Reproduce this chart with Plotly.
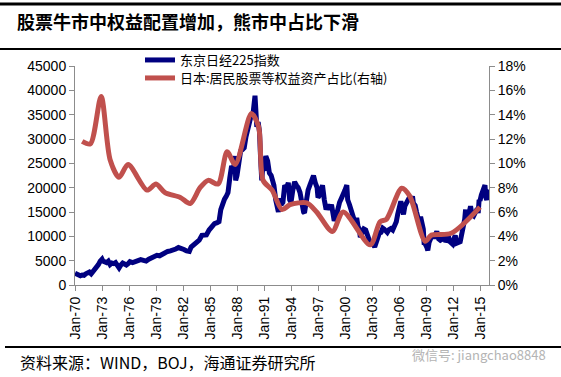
import plotly.graph_objects as go

# ---------------- data ----------------
nikkei_year = [
    1970.0, 1970.2, 1970.4, 1970.6, 1970.8, 1971.0, 1971.2, 1971.4, 1971.6, 1971.8,
    1972.0, 1972.3, 1972.6, 1972.8, 1973.0, 1973.1, 1973.3, 1973.5, 1973.7, 1973.9,
    1974.1, 1974.3, 1974.5, 1974.7, 1974.9, 1975.1, 1975.3, 1975.5, 1975.7, 1975.9,
    1976.1, 1976.4, 1976.7, 1977.0, 1977.3, 1977.6, 1977.9, 1978.2, 1978.5, 1978.8,
    1979.1, 1979.4, 1979.7, 1980.0, 1980.3, 1980.6, 1980.9, 1981.2, 1981.5, 1981.8,
    1982.1, 1982.4, 1982.7, 1982.9, 1983.2, 1983.5, 1983.8, 1984.1, 1984.4, 1984.6,
    1984.9, 1985.2, 1985.5, 1985.8, 1986.0, 1986.2, 1986.4, 1986.6, 1986.8, 1987.0,
    1987.2, 1987.4, 1987.6, 1987.8, 1987.85, 1988.0, 1988.2, 1988.4, 1988.6, 1988.8,
    1989.0, 1989.2, 1989.4, 1989.6, 1989.8, 1990.0, 1990.1, 1990.2, 1990.35, 1990.5,
    1990.6, 1990.75, 1990.85, 1991.0, 1991.2, 1991.4, 1991.6, 1991.8, 1991.95, 1992.1,
    1992.3, 1992.45, 1992.6, 1992.7, 1992.9, 1993.1, 1993.3, 1993.5, 1993.7, 1993.85,
    1994.0, 1994.2, 1994.4, 1994.6, 1994.8, 1995.0, 1995.2, 1995.4, 1995.5, 1995.7,
    1995.9, 1996.1, 1996.3, 1996.5, 1996.7, 1996.9, 1997.0, 1997.2, 1997.4, 1997.5,
    1997.7, 1997.9, 1998.1, 1998.3, 1998.5, 1998.7, 1998.8, 1999.0, 1999.2, 1999.4,
    1999.6, 1999.8, 2000.0, 2000.2, 2000.3, 2000.5, 2000.65, 2000.8, 2000.95, 2001.1,
    2001.3, 2001.45, 2001.6, 2001.7, 2001.9, 2002.1, 2002.3, 2002.5, 2002.7, 2002.9,
    2003.1, 2003.3, 2003.45, 2003.6, 2003.8, 2004.0, 2004.2, 2004.35, 2004.5, 2004.7,
    2004.9, 2005.1, 2005.3, 2005.5, 2005.7, 2005.85, 2006.0, 2006.2, 2006.35, 2006.5,
    2006.65, 2006.85, 2007.1, 2007.3, 2007.5, 2007.6, 2007.8, 2007.95, 2008.1, 2008.25,
    2008.4, 2008.55, 2008.7, 2008.8, 2008.9, 2009.1, 2009.2, 2009.35, 2009.5, 2009.7,
    2009.85, 2010.0, 2010.2, 2010.4, 2010.6, 2010.8, 2010.95, 2011.1, 2011.2, 2011.35,
    2011.5, 2011.6, 2011.8, 2011.95, 2012.1, 2012.25, 2012.4, 2012.6, 2012.8, 2012.9,
    2013.0, 2013.15, 2013.3, 2013.4, 2013.5, 2013.6, 2013.75, 2013.95, 2014.1, 2014.3,
    2014.5, 2014.7, 2014.8, 2014.9, 2015.0, 2015.15, 2015.3, 2015.45, 2015.55, 2015.65,
    2015.75, 2015.9, 2016.0,
]
nikkei_value = [
    2400, 2250, 2000, 1900, 2050, 2000, 2300, 2450, 2650, 2300,
    2700, 3300, 4200, 4900, 5300, 4900, 4700, 4600, 4900, 4200,
    4500, 4400, 4600, 4000, 3500, 4100, 4500, 4300, 4100, 4400,
    4800, 4600, 4900, 5000, 5200, 5100, 4900, 5300, 5600, 5800,
    6100, 6000, 6400, 6500, 6900, 7000, 7100, 7400, 7700, 7600,
    7300, 7000, 6900, 7800, 8200, 8800, 9200, 10200, 10400, 10300,
    11300, 12100, 12600, 12800, 13000, 15500, 16800, 17600, 18200, 19000,
    22000, 24500, 23500, 26500, 21500, 22500, 25000, 27500, 27800, 28200,
    30500, 32500, 33500, 35000, 35500, 38900, 37000, 32500, 33500, 31500,
    27000, 21500, 24000, 23500, 26500, 25500, 23000, 22500, 21500, 20500,
    17500, 16500, 15000, 17800, 16500, 17000, 20500, 20000, 21000, 17500,
    17000, 19500, 21200, 20500, 20000, 19000, 16500, 15000, 14800, 17500,
    19500, 20500, 22000, 22500, 21000, 20000, 18000, 18500, 19800, 20500,
    17500, 15500, 16500, 15500, 16500, 14000, 13200, 14000, 16000, 17000,
    17800, 18500, 19500, 20500, 17500, 16500, 15800, 14500, 13800, 12500,
    13800, 12000, 11500, 9800, 10500, 11500, 11300, 10000, 9200, 8500,
    8400, 7800, 8800, 10200, 10600, 10800, 11700, 11500, 11200, 10800,
    11400, 11600, 11300, 12300, 13000, 14500, 16300, 17200, 16000, 14500,
    16200, 17200, 17800, 17300, 18200, 16800, 16300, 15000, 13200, 12700,
    14000, 13000, 11500, 8300, 8500, 7700, 7100, 8800, 9800, 10300,
    9600, 10500, 11000, 9500, 9200, 9400, 10200, 10500, 8800, 9600,
    10000, 9000, 8600, 8400, 9500, 10200, 8600, 8800, 8900, 9800,
    10500, 12000, 13500, 15500, 13000, 14300, 14500, 16200, 14500, 14200,
    15300, 15700, 14800, 17500, 17300, 18500, 19500, 20300, 20500, 18000,
    17500, 19500, 19000,
]

share_year = [
    1970.8, 1971.7, 1972.9, 1973.9, 1974.9, 1975.9, 1978.0, 1979.0, 1980.0, 1981.7,
    1982.8, 1983.9, 1984.8, 1985.9, 1986.9, 1987.8, 1989.6, 1990.4, 1990.9, 1991.9,
    1993.0, 1993.9, 1995.75, 1996.85, 1998.6, 1999.8, 2002.8, 2003.9, 2004.6, 2006.3,
    2007.2, 2008.9, 2009.6, 2011.8, 2015.0,
]
share_value = [
    0.118, 0.116, 0.155, 0.103, 0.0885, 0.099, 0.078, 0.083, 0.076, 0.072,
    0.067, 0.080, 0.086, 0.083, 0.1095, 0.099, 0.141, 0.130, 0.086, 0.078,
    0.062, 0.066, 0.0675, 0.060, 0.044, 0.060, 0.033, 0.052, 0.054, 0.0795,
    0.073, 0.036, 0.041, 0.0425, 0.064,
]

tick_years = list(range(1970, 2016, 3))
tick_labels = ["Jan-%02d" % (y % 100) for y in tick_years]

title_text = "股票牛市中权益配置增加，熊市中占比下滑"
source_text = "资料来源：WIND，BOJ，海通证券研究所"
series_names = ["东京日经225指数", "日本:居民股票等权益资产占比(右轴)"]

# ---------------- figure ----------------
W, H = 561, 377
L, R, T, B = 75, 72, 66, 92
pw, ph = W - L - R, H - T - B


def px(xp):
    return (xp - L) / pw


def py(yp):
    return (H - B - yp) / ph


font_main = "Liberation Sans, Arial, sans-serif"
font_cjk = "Noto Sans CJK SC, Liberation Sans, sans-serif"

fig = go.Figure()
fig.add_trace(go.Scatter(
    x=nikkei_year, y=nikkei_value, name=series_names[0], mode="lines",
    line=dict(color="#000080", width=5), legend="legend",
))
fig.add_trace(go.Scatter(
    x=share_year, y=share_value, name=series_names[1], mode="lines", yaxis="y2",
    line=dict(color="#C0504D", width=5, shape="spline", smoothing=0.8), legend="legend2",
))

axis_common = dict(showgrid=False, zeroline=False, showline=True, linecolor="#8c8c8c",
                   linewidth=1, ticks="outside", ticklen=5, tickcolor="#8c8c8c",
                   tickfont=dict(family=font_main, size=14, color="#000000"))

legend_common = dict(xanchor="left", yanchor="top",
                     font=dict(family=font_cjk, size=13, color="#000000"),
                     bgcolor="rgba(0,0,0,0)", itemwidth=30)

fig.update_layout(
    width=W, height=H,
    margin=dict(l=L, r=R, t=T, b=B, autoexpand=False),
    paper_bgcolor="white", plot_bgcolor="white",
    showlegend=True,
    legend=dict(x=px(140), y=py(45), **legend_common),
    legend2=dict(x=px(140), y=py(63), **legend_common),
    xaxis=dict(range=[1970, 2016.0], tickmode="array", tickvals=tick_years,
               ticktext=tick_labels, tickangle=-90, **axis_common),
    yaxis=dict(range=[0, 45000], dtick=5000, tickformat="d", **axis_common),
    yaxis2=dict(range=[0, 0.18], dtick=0.02, tickformat=".0%", overlaying="y",
                side="right", **axis_common),
)

# decorative rules
rules = [(0, 4, 3), (0, 49, 2), (5, 347, 2)]
for xs, yp, w in rules:
    fig.add_shape(type="line", xref="paper", yref="paper", layer="above",
                  x0=px(xs), x1=px(W), y0=py(yp), y1=py(yp),
                  line=dict(color="#000000", width=w))

fig.add_annotation(x=px(15), y=py(21), xref="paper", yref="paper", xanchor="left",
                   yanchor="middle", showarrow=False, text="<b>" + title_text + "</b>",
                   font=dict(family=font_cjk, size=18, color="#000000"))
fig.add_annotation(x=px(18), y=py(362), xref="paper", yref="paper", xanchor="left",
                   yanchor="middle", showarrow=False, text=source_text,
                   font=dict(family=font_cjk, size=16, color="#000000"))
fig.add_annotation(x=px(548), y=py(354), xref="paper", yref="paper", xanchor="right",
                   yanchor="middle", showarrow=False, text="微信号: jiangchao8848",
                   font=dict(family=font_cjk, size=13, color="#b4b4b4"))

fig.write_html(
    "out.html",
    config={"displayModeBar": False},
    post_script="document.body.style.margin='0';document.body.style.overflow='hidden';",
)
